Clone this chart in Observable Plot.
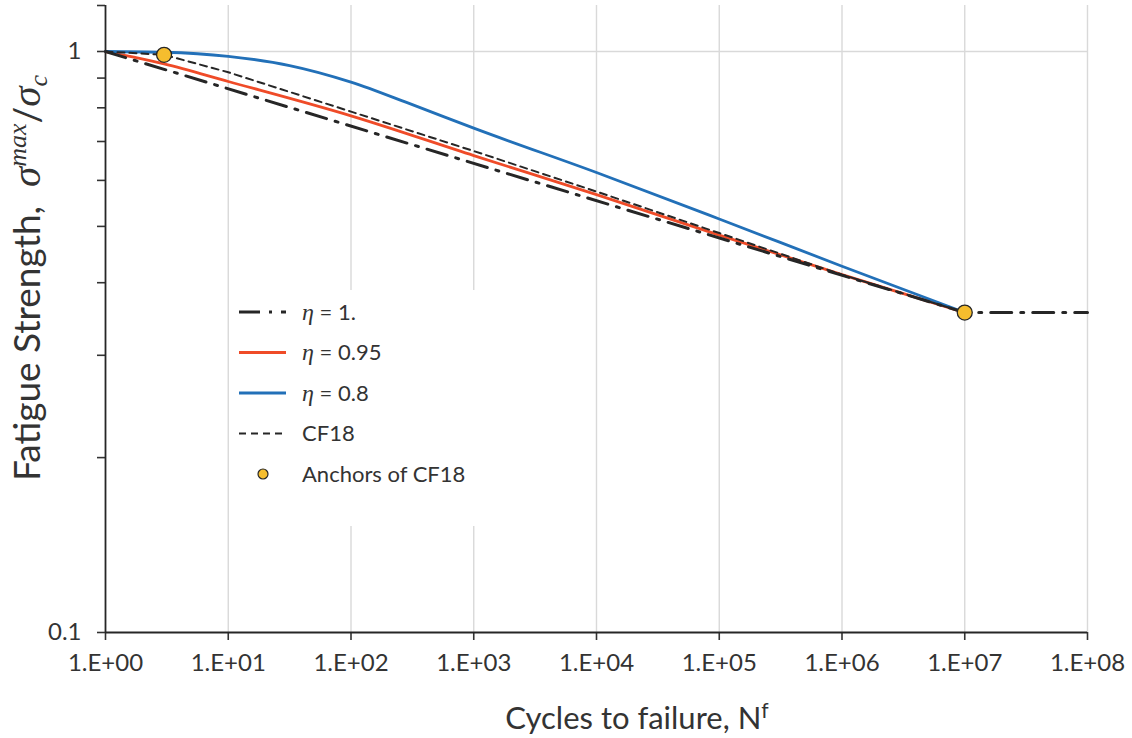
<!DOCTYPE html>
<html>
<head>
<meta charset="utf-8">
<script src="https://cdn.jsdelivr.net/npm/d3@7"></script>
<script src="https://cdn.jsdelivr.net/npm/@observablehq/plot@0.6"></script>
<style>
  html, body { margin: 0; padding: 0; background: #fff; }
  #wrap { position: relative; width: 1132px; height: 738px; overflow: hidden; font-family: Lato, "Open Sans", sans-serif; color: #333; }
  #legend { position: absolute; left: 231px; top: 290px; }
</style>
</head>
<body>
<div id="wrap"></div>
<script>
// ---- data ----
const decadeTicks = [1, 1e1, 1e2, 1e3, 1e4, 1e5, 1e6, 1e7, 1e8];
const yMajorTicks = [0.1, 1];
const yMinorTicks = [0.2, 0.3, 0.4, 0.5, 0.6, 0.7, 0.8, 0.9, 1.2];

const eta1N = [1, 1e7, 1e8];
const eta1S = [1, 0.3554, 0.3554];

const eta095N = [1, 1.7, 3, 10, 100, 1e3, 1e4, 1e5, 1e6, 1e7];
const eta095S = [1, 0.978, 0.952, 0.888, 0.775, 0.662, 0.567, 0.483, 0.413, 0.3554];

const eta08N = [1, 3, 10, 31.6, 100, 316, 1e3, 1e4, 1e5, 1e6, 1e7];
const eta08S = [1, 0.997, 0.981, 0.946, 0.886, 0.81, 0.738, 0.619, 0.515, 0.427, 0.3554];

const cf18N = [1, 3, 10, 100, 1e3, 1e4, 1e5, 1e6, 1e7];
const cf18S = [1, 0.987, 0.921, 0.788, 0.674, 0.574, 0.487, 0.413, 0.3554];

const anchorN = [3, 1e7];
const anchorS = [0.987, 0.3554];

const legendLabels = ["η = 1.", "η = 0.95", "η = 0.8", "CF18", "Anchors of CF18"];

// ---- styles ----
const RED = "#EF4B28", BLUE = "#2270B8", INK = "#262626", DOT = "#F5BD2E", GRID = "#d9d9d9";
const DASHDOT = "21,9,3,9", DASH = "7,5";
const SANS = "Lato, 'Open Sans', sans-serif";
const SERIF = "'Liberation Serif', 'DejaVu Serif', serif";

const toRows = (xs, ys) => xs.map((x, i) => ({x, y: ys[i]}));
const fmtX = d => "1.E+" + String(Math.round(Math.log10(d))).padStart(2, "0");

const chart = Plot.plot({
  width: 1132,
  height: 738,
  marginLeft: 105,
  marginRight: 45,
  marginTop: 5,
  marginBottom: 106,
  style: {fontFamily: SANS, fontSize: "24px", color: "#333", background: "transparent"},
  x: {type: "log", domain: [1, 1e8]},
  y: {type: "log", domain: [0.1, 1.2]},
  marks: [
    Plot.ruleX(decadeTicks.slice(1), {stroke: GRID, strokeWidth: 1.4}),
    Plot.ruleY([1], {stroke: GRID, strokeWidth: 1.4}),
    Plot.axisX(decadeTicks, {tickFormat: fmtX, tickSize: 8, tickPadding: 13, color: "#333", strokeWidth: 1.6, label: null}),
    Plot.axisY(yMajorTicks, {tickFormat: d => String(d), tickSize: 8, tickPadding: 16, color: "#333", strokeWidth: 1.6, label: null}),
    Plot.axisY(yMinorTicks, {tickFormat: () => "", tickSize: 8, color: "#333", strokeWidth: 1.6, label: null}),
    Plot.ruleY([0.1], {stroke: INK, strokeWidth: 1.8}),
    Plot.ruleX([1], {stroke: INK, strokeWidth: 1.8}),
    Plot.line(toRows(eta095N, eta095S), {x: "x", y: "y", stroke: RED, strokeWidth: 2.8, curve: "monotone-x"}),
    Plot.line(toRows(eta08N, eta08S), {x: "x", y: "y", stroke: BLUE, strokeWidth: 2.8, curve: "monotone-x"}),
    Plot.line(toRows(eta1N, eta1S), {x: "x", y: "y", stroke: INK, strokeWidth: 3, strokeDasharray: DASHDOT}),
    Plot.line(toRows(cf18N, cf18S), {x: "x", y: "y", stroke: INK, strokeWidth: 2, strokeDasharray: DASH}),
    Plot.dot(toRows(anchorN, anchorS), {x: "x", y: "y", r: 7.5, fill: DOT, stroke: INK, strokeWidth: 1.3})
  ]
});

const wrap = document.getElementById("wrap");
chart.style.position = "absolute";
chart.style.left = "0px";
chart.style.top = "0px";
wrap.appendChild(chart);

const ns = "http://www.w3.org/2000/svg";
const el = (tag, attrs, parent) => {
  const e = document.createElementNS(ns, tag);
  for (const k in attrs) e.setAttribute(k, attrs[k]);
  if (parent) parent.appendChild(e);
  return e;
};
const span = (parent, text, attrs = {}) => { const t = el("tspan", attrs, parent); t.textContent = text; return t; };

// ---- axis titles (SVG text inside the chart) ----
const svgRoot = chart.tagName.toLowerCase() === "svg" ? chart : chart.querySelector("svg");
const xt = el("text", {x: 637, y: 729, "text-anchor": "middle", "font-family": SANS, "font-size": "31px", fill: "#333"}, svgRoot);
span(xt, "Cycles to failure, N");
span(xt, "f", {"font-size": "21px", dy: "-11"});

const yt = el("text", {transform: "translate(40,278) rotate(-90)", "text-anchor": "middle", "font-family": SANS, "font-size": "37px", fill: "#333"}, svgRoot);
span(yt, "Fatigue Strength,\u00a0\u00a0");
span(yt, "σ", {"font-family": SERIF, "font-style": "italic", "font-size": "41px"});
span(yt, "max", {"font-family": SERIF, "font-style": "italic", "font-size": "26px", dy: "-14"});
span(yt, "/", {dy: "14", "font-size": "37px"});
span(yt, "σ", {"font-family": SERIF, "font-style": "italic", "font-size": "41px"});
span(yt, "c", {"font-family": SERIF, "font-style": "italic", "font-size": "26px", dy: "7"});

// ---- legend (white box hides gridlines, as in the reference) ----
const lg = el("svg", {id: "legend", width: 290, height: 236});
el("rect", {width: 290, height: 236, fill: "#fff"}, lg);
const rowY = i => 22 + i * 40.5;
const samples = [
  {stroke: INK, w: 3, dash: DASHDOT},
  {stroke: RED, w: 2.8, dash: null},
  {stroke: BLUE, w: 2.8, dash: null},
  {stroke: INK, w: 2, dash: DASH},
  null
];
legendLabels.forEach((lab, i) => {
  const y = rowY(i);
  const s = samples[i];
  if (s) {
    const a = {x1: 8, x2: 55, y1: y, y2: y, stroke: s.stroke, "stroke-width": s.w};
    if (s.dash) a["stroke-dasharray"] = s.dash;
    el("line", a, lg);
  } else {
    el("circle", {cx: 32, cy: y, r: 5, fill: DOT, stroke: INK, "stroke-width": 1.2}, lg);
  }
  const t = el("text", {x: 71, y: y, dy: "0.36em", "font-family": SANS, "font-size": "22px", fill: "#333"}, lg);
  if (lab.startsWith("η")) {
    span(t, "η", {"font-family": SERIF, "font-style": "italic", "font-size": "24px"});
    span(t, lab.slice(1));
  } else {
    t.textContent = lab;
  }
});
wrap.appendChild(lg);
</script>
</body>
</html>
